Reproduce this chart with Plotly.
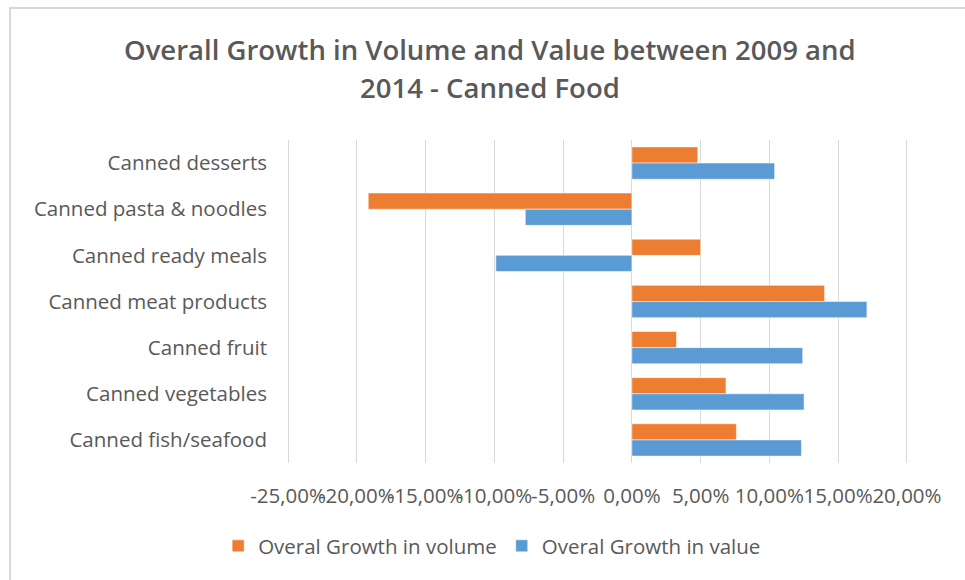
import plotly.graph_objects as go

# Growth between 2009 and 2014, in percent
categories = [
    "Canned desserts",
    "Canned pasta & noodles",
    "Canned ready meals",
    "Canned meat products",
    "Canned fruit",
    "Canned vegetables",
    "Canned fish/seafood",
]
growth_volume = [4.79, -19.17, 5.00, 14.01, 3.24, 6.84, 7.60]
growth_value = [10.38, -7.75, -9.89, 17.09, 12.42, 12.52, 12.33]

x_ticks = [-25, -20, -15, -10, -5, 0, 5, 10, 15, 20]
x_tick_labels = [f"{t:.2f}%".replace(".", ",") for t in x_ticks]

title_lines = [
    "Overall Growth in Volume and Value between 2009 and",
    "2014 - Canned Food",
]

ORANGE = "#ED7D31"
BLUE = "#5B9BD5"
TEXT = "#595959"
GRID = "#D9D9D9"
FONT = "Open Sans"
FS = 20.5

W, H = 965, 580
L, R, T, B = 286, 56, 140, 117
PW, PH = W - L - R, H - T - B

fig = go.Figure()
fig.add_trace(go.Bar(
    name="Overal Growth in volume",
    y=categories,
    x=growth_volume,
    orientation="h",
    marker=dict(color=ORANGE, line=dict(color="white", width=0.5)),
))
fig.add_trace(go.Bar(
    name="Overal Growth in value",
    y=categories,
    x=growth_value,
    orientation="h",
    marker=dict(color=BLUE, line=dict(color="white", width=0.5)),
))

# Title drawn as two centred lines
title_ann = [
    dict(
        text=line,
        xref="paper", yref="paper",
        x=(490 - L) / PW, y=(H - B - yc) / PH,
        xanchor="center", yanchor="middle",
        showarrow=False,
        font=dict(family=FONT, size=27.5, color=TEXT, weight=600),
    )
    for line, yc in zip(title_lines, [50, 88])
]

fig.update_layout(
    width=W,
    height=H,
    margin=dict(l=L, r=R, t=T, b=B, autoexpand=False),
    paper_bgcolor="white",
    plot_bgcolor="white",
    barmode="group",
    bargap=0.3,
    bargroupgap=0,
    font=dict(family=FONT, color=TEXT, size=FS),
    annotations=title_ann,
    xaxis=dict(
        range=[-25.15, 20.15],
        tickvals=x_ticks,
        ticktext=x_tick_labels,
        tickangle=0,
        showgrid=True,
        gridcolor=GRID,
        gridwidth=1,
        zeroline=False,
        showline=False,
        ticks="",
        ticklabelstandoff=18,
        tickfont=dict(family=FONT, size=FS, color=TEXT),
    ),
    yaxis=dict(
        autorange="reversed",
        showgrid=False,
        zeroline=False,
        showline=False,
        ticks="",
        ticklabelstandoff=18,
        tickfont=dict(family=FONT, size=FS, color=TEXT),
    ),
    legend=dict(
        orientation="h",
        x=0.51,
        xref="container",
        xanchor="center",
        y=(H - 546) / H,
        yref="container",
        yanchor="middle",
        font=dict(family=FONT, size=FS, color=TEXT),
        traceorder="normal",
        itemwidth=30,
    ),
    shapes=[dict(
        type="rect",
        xref="paper", yref="paper",
        x0=(10 - L) / PW, x1=(W + 10 - L) / PW,
        y0=(H - B - (H + 10)) / PH, y1=(H - B - 8) / PH,
        line=dict(color=GRID, width=2),
        fillcolor="rgba(0,0,0,0)",
        layer="below",
    )],
)

fig.write_html("out.html")
